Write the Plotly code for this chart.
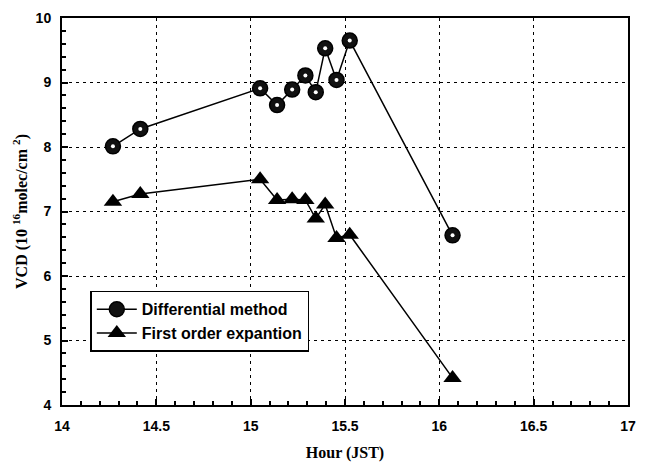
import plotly.graph_objects as go

hours = [14.27, 14.415, 15.05, 15.14, 15.22, 15.29, 15.345, 15.395, 15.455, 15.525, 16.07]
vcd_diff = [8.01, 8.28, 8.91, 8.65, 8.89, 9.11, 8.85, 9.53, 9.04, 9.65, 6.63]
vcd_first = [7.15, 7.27, 7.50, 7.18, 7.19, 7.18, 6.89, 7.11, 6.59, 6.64, 4.42]

x_ticks = [14, 14.5, 15, 15.5, 16, 16.5, 17]
x_labels = ["14", "14.5", "15", "15.5", "16", "16.5", "17"]
y_ticks = [4, 5, 6, 7, 8, 9, 10]

fig = go.Figure()
fig.add_trace(go.Scatter(
    x=hours, y=vcd_diff, mode="lines+markers", name="Differential method",
    line=dict(color="black", width=1.5),
    marker=dict(symbol="circle", size=15, color="#111", line=dict(color="black", width=1.5)),
))
fig.add_trace(go.Scatter(
    x=hours, y=vcd_diff, mode="markers", showlegend=False, hoverinfo="skip",
    marker=dict(symbol="circle", size=4, color="white"),
))
fig.add_trace(go.Scatter(
    x=hours, y=vcd_first, mode="lines+markers", name="First order expantion",
    line=dict(color="black", width=1.5),
    marker=dict(symbol="triangle-up", size=16, color="black"),
))

grid = dict(showgrid=True, gridcolor="black", gridwidth=1.3, griddash="3px,4px")
fig.update_xaxes(
    range=[14, 17], tickvals=x_ticks, ticktext=x_labels,
    ticks="inside", ticklen=6, tickwidth=1.5, tickcolor="black",
    minor=dict(dtick=0.1, ticks="inside", ticklen=4, tickcolor="black", showgrid=False),
    showline=True, linecolor="black", linewidth=2, mirror=True, zeroline=False,
    tickfont=dict(family="Liberation Sans", size=14, color="black", weight="bold"),
    ticklabelstandoff=7,
    title=dict(text="Hour (JST)", font=dict(family="Liberation Serif", size=16, color="black", weight="bold"), standoff=14),
    ticklabeloverflow="allow",
    **grid,
)
fig.update_yaxes(
    range=[4, 10], tickvals=y_ticks,
    ticks="inside", ticklen=6, tickwidth=1.5, tickcolor="black",
    minor=dict(dtick=0.2, ticks="inside", ticklen=4, tickcolor="black", showgrid=False),
    showline=True, linecolor="black", linewidth=2, mirror=True, zeroline=False,
    tickfont=dict(family="Liberation Sans", size=14, color="black", weight="bold"),
    ticklabelstandoff=6,
    title=dict(text="VCD (10 <sup>16</sup>molec/cm <sup>2</sup>)", font=dict(family="Liberation Serif", size=16, color="black", weight="bold"), standoff=4),
    ticklabeloverflow="allow",
    **grid,
)
fig.update_layout(
    width=646, height=469,
    margin=dict(l=62, r=10, t=12, b=60),
    paper_bgcolor="white", plot_bgcolor="white",
    showlegend=True,
    legend=dict(x=0.05, y=0.295, xanchor="left", yanchor="top",
                bgcolor="white", bordercolor="black", borderwidth=1.5,
                font=dict(family="Liberation Sans", size=16, color="black", weight="bold"),
                tracegroupgap=0, itemwidth=40),
)
fig.write_html(
    "out.html",
    config={"displayModeBar": False},
    post_script="document.body.style.margin='0';document.body.style.padding='0';document.body.style.overflow='hidden';",
)
